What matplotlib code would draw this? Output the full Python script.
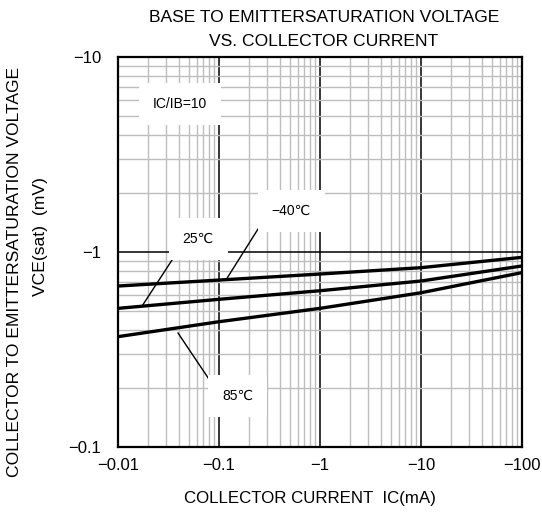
import numpy as np
import matplotlib
matplotlib.use("Agg")
import matplotlib.pyplot as plt
from matplotlib.ticker import FixedLocator, FixedFormatter, LogLocator, NullFormatter

plt.rcParams['font.family'] = ['Liberation Sans', 'DejaVu Sans']

# collector current IC (mA, magnitude) and VCE(sat) (mV, magnitude)
ic = [0.01, 0.1, 1, 10, 100]
vce_m40 = [0.669, 0.718, 0.771, 0.831, 0.939]
vce_25 = [0.514, 0.572, 0.633, 0.710, 0.848]
vce_85 = [0.368, 0.439, 0.514, 0.618, 0.784]

x_ticks = [0.01, 0.1, 1, 10, 100]
x_labels = ['\u22120.01', '\u22120.1', '\u22121', '\u221210', '\u2212100']
y_ticks = [0.1, 1, 10]
y_labels = ['\u22120.1', '\u22121', '\u221210']

fig = plt.figure(figsize=(5.42, 5.15), dpi=100)
ax = fig.add_axes([118/542, 68/515, 404/542, 390/515])
ax.set_xscale('log')
ax.set_yscale('log')
ax.set_xlim(0.01, 100)
ax.set_ylim(0.1, 10)

# grid: gray minor, black major
ax.set_axisbelow(True)
ax.xaxis.set_major_locator(FixedLocator(x_ticks))
ax.xaxis.set_major_formatter(FixedFormatter(x_labels))
ax.yaxis.set_major_locator(FixedLocator(y_ticks))
ax.yaxis.set_major_formatter(FixedFormatter(y_labels))
ax.xaxis.set_minor_locator(LogLocator(base=10, subs=np.arange(2, 10)))
ax.yaxis.set_minor_locator(LogLocator(base=10, subs=np.arange(2, 10)))
ax.xaxis.set_minor_formatter(NullFormatter())
ax.yaxis.set_minor_formatter(NullFormatter())
ax.grid(True, which='minor', color='#bdbdbd', lw=1.0)
ax.grid(True, which='major', color='black', lw=1.1)
ax.tick_params(which='both', length=0)
ax.tick_params(axis='y', pad=12, labelsize=12)
ax.tick_params(axis='x', pad=8, labelsize=12)
for s in ax.spines.values():
    s.set_linewidth(1.6)

# curves
for v in (vce_m40, vce_25, vce_85):
    ax.plot(ic, v, color='black', lw=2.4, zorder=3)

# labels with leader lines
box = dict(facecolor='white', edgecolor='none', pad=10)
ax.text(0.041, 5.74, 'IC/IB=10', fontsize=10, ha='center', va='center', bbox=box, zorder=4)
ax.text(0.52, 1.62, '\u221240\u2103', fontsize=10, ha='center', va='center', bbox=box, zorder=4)
ax.text(0.062, 1.166, '25\u2103', fontsize=10, ha='center', va='center', bbox=box, zorder=4)
ax.text(0.154, 0.183, '85\u2103', fontsize=10, ha='center', va='center', bbox=box, zorder=4)
ax.plot([0.243, 0.117], [1.31, 0.718], color='black', lw=1.0, zorder=3)
ax.plot([0.0375, 0.0173], [0.977, 0.528], color='black', lw=1.0, zorder=3)
ax.plot([0.0393, 0.087], [0.384, 0.208], color='black', lw=1.0, zorder=3)

fig.text(324/542, 1 - 18/515, 'BASE TO EMITTERSATURATION VOLTAGE', ha='center', va='center', fontsize=12.6)
fig.text(324/542, 1 - 42/515, 'VS. COLLECTOR CURRENT', ha='center', va='center', fontsize=12.6)
fig.text(15/542, 1 - 272/515, 'COLLECTOR TO EMITTERSATURATION VOLTAGE', rotation=90,
         ha='center', va='center', fontsize=12.6)
fig.text(40/542, 1 - 236/515, 'VCE(sat)  (mV)', rotation=90, ha='center', va='center', fontsize=12.6)
fig.text(310/542, 1 - 499/515, 'COLLECTOR CURRENT  IC(mA)', ha='center', va='center', fontsize=12.2)

fig.savefig('out.png', dpi=100)
